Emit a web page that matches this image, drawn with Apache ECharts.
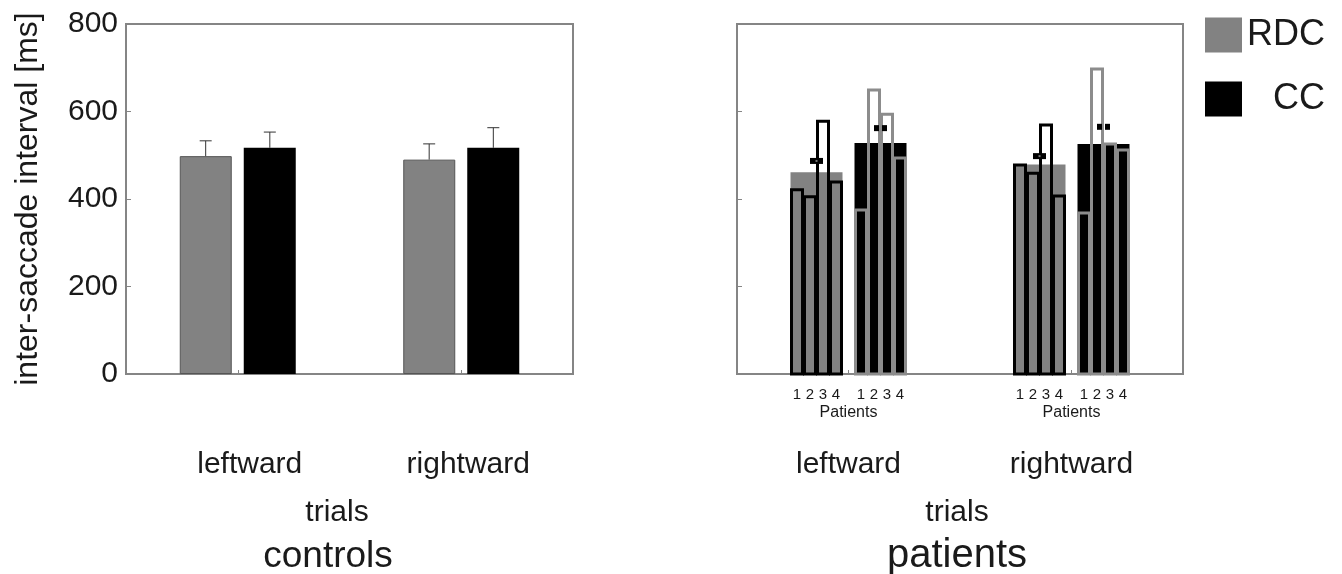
<!DOCTYPE html>
<html>
<head>
<meta charset="utf-8">
<script src="https://cdn.jsdelivr.net/npm/echarts@6/dist/echarts.min.js"></script>
<style>html,body{margin:0;padding:0;background:#fff;}#c{width:1342px;height:574px;}</style>
</head>
<body>
<div id="c"></div>
<script>
// ---- data ----
const categories = ['leftward', 'rightward'];
const yTicks = [0, 200, 400, 600, 800];
// controls: group means and upper error bar ends
const ctrlRdc = [498, 490];
const ctrlRdcErr = [533, 526];
const ctrlCc = [517, 517];
const ctrlCcErr = [553, 563];
// patients: group means
const patRdcMean = [461, 479];
const patCcMean = [528, 526];
// patients: individual patients 1..4
const patientIds = ['1', '2', '3', '4'];
const patRdcLeft = [421, 405, 578, 439];
const patRdcRight = [478, 459, 569, 407];
const patCcLeft = [375, 649, 594, 494];
const patCcRight = [368, 697, 526, 512];
// patients: error marks
const patRdcMark = [487, 498];
const patCcMark = [562, 565];
const patientAxisName = 'Patients';

// ---- style ----
const FONT = 'Liberation Sans, Arial, sans-serif';
const GRAY = '#828282';
const BLACK = '#000000';
const AXIS = '#858585';
const TXT = '#1a1a1a';
const BAR_W = 52, BAR_GAP = 12, REF_BAND = 223;

const chart = echarts.init(document.getElementById('c'), null, {renderer: 'canvas'});

function errRender(side) {
  return function (params, api) {
    const cat = api.value(0);
    const bw = api.size([1, 0])[0];
    const s = bw / REF_BAND;
    const off = side * (BAR_W + BAR_GAP) / 2 * s;
    const p0 = api.coord([cat, api.value(1)]);
    const p1 = api.coord([cat, api.value(2)]);
    const x = p0[0] + off;
    return {
      type: 'group',
      children: [
        {type: 'line', shape: {x1: x, y1: p0[1], x2: x, y2: p1[1]}, style: {stroke: '#333', lineWidth: 1}},
        {type: 'line', shape: {x1: x - 6, y1: p1[1], x2: x + 6, y2: p1[1]}, style: {stroke: '#333', lineWidth: 1}}
      ]
    };
  };
}

function patRender(side, fill, stroke, double) {
  return function (params, api) {
    const cat = api.value(0);
    const bw = api.size([1, 0])[0];
    const s = bw / REF_BAND;
    const barW = BAR_W * s, gap = BAR_GAP * s;
    const c = api.coord([cat, 0]);
    const base = c[1];
    const x0 = side < 0 ? c[0] - gap / 2 - barW : c[0] + gap / 2;
    const gTop = api.coord([cat, api.value(1)])[1];
    const children = [
      {type: 'rect', shape: {x: x0, y: gTop, width: barW, height: base - gTop}, style: {fill: fill}}
    ];
    const pw = barW / 4;
    for (let i = 0; i < 4; i++) {
      const y = api.coord([cat, api.value(2 + i)])[1];
      children.push({type: 'rect', shape: {x: x0 + i * pw + 1, y: y, width: pw - 2, height: base - y},
        style: {fill: null, stroke: stroke, lineWidth: 3}});
      children.push({type: 'text', style: {text: patientIds[i], x: x0 + i * pw + pw / 2, y: base + 21,
        align: 'center', verticalAlign: 'middle', fontSize: 15, fontFamily: FONT, fill: TXT}});
    }
    const my = api.coord([cat, api.value(6)])[1];
    const mx = x0 + barW / 2;
    if (double) {
      children.push({type: 'rect', shape: {x: mx - 6.5, y: my - 3, width: 5, height: 6}, style: {fill: BLACK}});
      children.push({type: 'rect', shape: {x: mx + 1.5, y: my - 3, width: 5, height: 6}, style: {fill: BLACK}});
    } else {
      children.push({type: 'rect', shape: {x: mx - 6.5, y: my - 3, width: 13, height: 6}, style: {fill: BLACK}});
      children.push({type: 'rect', shape: {x: mx - 1, y: my - 1, width: 2, height: 2}, style: {fill: '#777'}});
    }
    if (side < 0) {
      children.push({type: 'text', style: {text: patientAxisName, x: c[0], y: base + 39,
        align: 'center', verticalAlign: 'middle', fontSize: 16, fontFamily: FONT, fill: TXT}});
    }
    return {type: 'group', children: children};
  };
}

function catAxis(gi, shifts) {
  return {
    type: 'category', gridIndex: gi, data: categories,
    axisLine: {show: true, lineStyle: {color: AXIS, width: 2}},
    axisTick: {show: true, inside: true, alignWithLabel: true, length: 4, lineStyle: {color: AXIS}},
    axisLabel: {
      margin: 76, fontSize: 30, fontFamily: FONT, color: TXT,
      formatter: function (v) { return shifts ? '{' + (v === 'leftward' ? 'a' : 'b') + '|' + v + '}' : v; },
      rich: shifts ? {a: {fontSize: 30, fontFamily: FONT, color: TXT, padding: [0, 0, 0, 24]},
                      b: {fontSize: 30, fontFamily: FONT, color: TXT, padding: [0, 0, 0, 14]}} : undefined
    },
    splitLine: {show: false}
  };
}

function valAxis(gi, showLabels) {
  return {
    type: 'value', gridIndex: gi, min: yTicks[0], max: yTicks[yTicks.length - 1], interval: yTicks[1] - yTicks[0],
    name: showLabels ? 'inter-saccade interval [ms]' : '',
    nameLocation: 'middle', nameGap: 82,
    nameTextStyle: {fontSize: 32, fontFamily: FONT, color: TXT},
    axisLine: {show: true, lineStyle: {color: AXIS, width: 2}},
    axisTick: {show: true, inside: true, length: 5, lineStyle: {color: AXIS}},
    axisLabel: {show: showLabels, fontSize: 30, fontFamily: FONT, color: TXT, margin: 8},
    splitLine: {show: false}
  };
}

const option = {
  animation: false,
  backgroundColor: '#fff',
  grid: [
    {left: 126, right: 1342 - 573, top: 24, bottom: 574 - 374, show: true, borderColor: AXIS, borderWidth: 2},
    {left: 737, right: 1342 - 1183, top: 24, bottom: 574 - 374, show: true, borderColor: AXIS, borderWidth: 2}
  ],
  xAxis: [catAxis(0, true), catAxis(1, false)],
  yAxis: [valAxis(0, true), valAxis(1, false)],
  legend: {
    data: ['RDC', 'CC'], orient: 'vertical', left: 1205, top: 17, padding: 0,
    itemWidth: 37, itemHeight: 35, itemGap: 28, icon: 'rect', selectedMode: false,
    itemStyle: {borderWidth: 0},
    textStyle: {fontSize: 36, fontFamily: FONT, color: TXT,
      rich: {c: {fontSize: 36, fontFamily: FONT, color: TXT, padding: [0, 0, 0, 26]}}},
    formatter: function (n) { return n === 'CC' ? '{c|CC}' : n; }
  },
  graphic: [
    {type: 'text', x: 337, y: 513, style: {text: 'trials', align: 'center', verticalAlign: 'middle', fontSize: 30, fontFamily: FONT, fill: TXT}},
    {type: 'text', x: 957, y: 513, style: {text: 'trials', align: 'center', verticalAlign: 'middle', fontSize: 30, fontFamily: FONT, fill: TXT}},
    {type: 'text', x: 328, y: 557, style: {text: 'controls', align: 'center', verticalAlign: 'middle', fontSize: 37, fontFamily: FONT, fill: TXT}},
    {type: 'text', x: 957, y: 556, style: {text: 'patients', align: 'center', verticalAlign: 'middle', fontSize: 40, fontFamily: FONT, fill: TXT}}
  ],
  series: [
    {name: 'RDC', type: 'bar', xAxisIndex: 0, yAxisIndex: 0, data: ctrlRdc, barWidth: BAR_W, barGap: (BAR_GAP / BAR_W * 100) + '%',
      itemStyle: {color: GRAY, borderColor: '#555', borderWidth: 1}},
    {name: 'CC', type: 'bar', xAxisIndex: 0, yAxisIndex: 0, data: ctrlCc, barWidth: BAR_W,
      itemStyle: {color: BLACK}},
    {name: 'RDC err', type: 'custom', xAxisIndex: 0, yAxisIndex: 0, renderItem: errRender(-1),
      data: categories.map((c, i) => [i, ctrlRdc[i], ctrlRdcErr[i]]), encode: {x: 0, y: [1, 2]}, z: 3},
    {name: 'CC err', type: 'custom', xAxisIndex: 0, yAxisIndex: 0, renderItem: errRender(1),
      data: categories.map((c, i) => [i, ctrlCc[i], ctrlCcErr[i]]), encode: {x: 0, y: [1, 2]}, z: 3},
    {name: 'RDC', type: 'custom', xAxisIndex: 1, yAxisIndex: 1, renderItem: patRender(-1, GRAY, BLACK, false),
      itemStyle: {color: GRAY},
      data: [[0, patRdcMean[0]].concat(patRdcLeft, [patRdcMark[0]]), [1, patRdcMean[1]].concat(patRdcRight, [patRdcMark[1]])],
      encode: {x: 0, y: [1, 2, 3, 4, 5, 6]}},
    {name: 'CC', type: 'custom', xAxisIndex: 1, yAxisIndex: 1, renderItem: patRender(1, BLACK, '#8c8c8c', true),
      itemStyle: {color: BLACK},
      data: [[0, patCcMean[0]].concat(patCcLeft, [patCcMark[0]]), [1, patCcMean[1]].concat(patCcRight, [patCcMark[1]])],
      encode: {x: 0, y: [1, 2, 3, 4, 5, 6]}}
  ]
};
chart.setOption(option);
</script>
</body>
</html>
